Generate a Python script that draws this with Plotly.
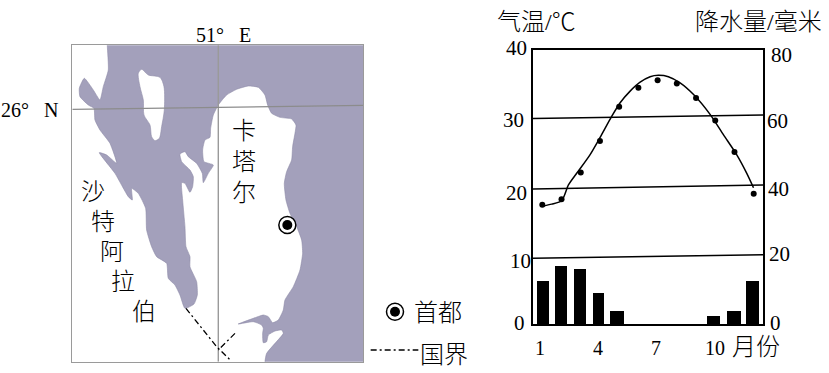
import plotly.graph_objects as go

W, H = 829, 373

# ---- climate data ----
months = list(range(1, 13))
temperature = [17.4, 18.2, 22.1, 26.7, 31.7, 34.5, 35.6, 35.1, 33.0, 29.7, 25.1, 19.0]
precipitation = [12.6, 17.0, 16.0, 9.0, 3.9, 0, 0, 0, 0, 2.4, 3.9, 12.6]
bar_offset = [0.03, -0.03, -0.03, -0.08, -0.10, 0, 0, 0, 0, -0.07, -0.03, -0.07]
bar_width = [0.60, 0.625, 0.61, 0.59, 0.73, 0.6, 0.6, 0.6, 0.6, 0.68, 0.71, 0.68]
curve_month = [0.98, 1.49, 2.01, 2.36, 2.79, 3.48, 4.0, 4.61, 5.05, 5.57, 6.09, 6.61, 7.04,
               7.56, 8.17, 8.87, 9.73, 10.43, 11.12, 11.64, 11.99]
curve_temp = [17.2, 17.5, 18.0, 20.3, 22.0, 24.7, 27.2, 30.3, 32.3, 34.0, 35.3, 36.1, 36.3,
              36.1, 35.2, 33.5, 30.6, 27.6, 24.7, 22.0, 19.9]
grid_left = [9.6, 19.7, 30.0]
grid_right = [10.1, 20.3, 30.5]
temp_ticks = ["0", "10", "20", "30", "40"]
rain_ticks = ["0", "20", "40", "60", "80"]
month_ticks = ["1", "4", "7", "10"]

# ---- map outlines (map units) ----
sea_x = [322, 322, 1150, 1150, 795, 795, 800, 825, 850, 845, 825, 805, 800, 790, 788, 790, 785, 760, 715, 760, 790, 805, 818, 835,
         850, 855, 880, 900, 908, 905, 890, 870, 858, 853, 860, 875, 878, 885, 888, 875, 840, 815, 803, 795, 775,
         745, 710, 680, 655, 640, 632, 630, 615, 608, 612, 640, 625, 610, 607, 590, 565, 555, 540, 545, 570, 580,
         578, 570, 555, 545, 548, 555, 558, 570, 570, 590, 592, 582, 555, 540, 525, 505, 500, 470, 455, 440, 437,
         415, 395, 397, 385, 345, 298, 320, 350, 330, 300, 285, 282, 265, 240, 238, 253, 280, 300, 310, 325, 322]
sea_y = [136, 80, 80, 1150, 1150, 1085, 1060, 1030, 1000, 990, 993, 1005, 1025, 1028, 1000, 985, 975, 965, 972, 955, 945, 950, 968, 960,
         930, 900, 860, 810, 760, 720, 680, 640, 600, 550, 515, 480, 440, 400, 375, 357, 352, 340, 315, 285, 262,
         258, 268, 285, 315, 345, 385, 412, 420, 450, 485, 495, 520, 548, 520, 490, 470, 455, 462, 485, 510, 530,
         560, 577, 550, 548, 600, 680, 740, 770, 800, 845, 885, 912, 925, 885, 855, 835, 790, 770, 740, 690, 625,
         580, 565, 600, 590, 520, 458, 465, 490, 430, 390, 360, 325, 315, 290, 265, 235, 270, 300, 260, 210, 136]
island_x = [415, 425, 445, 480, 492, 493, 485, 478, 465, 455, 450, 432, 430, 420, 415]
island_y = [220, 208, 225, 232, 260, 330, 380, 415, 422, 410, 375, 345, 300, 260, 220]
meridian_x = [655, 655]
meridian_y = [136, 1085]
parallel_x = [217, 1090]
parallel_y = [328, 316]
border_x = [558, 650, 693]
border_y = [925, 1040, 1082]
border2_x = [705, 655]
border2_y = [1000, 1050]
legend_line_x = [1112, 1255]
legend_line_y = [1050, 1050]
capital_x = [862, 1185]
capital_y = [675, 935]

SERIF = "Liberation Serif, Noto Sans CJK SC, serif"
MAP = dict(xaxis="x3", yaxis="y3", hoverinfo="skip", showlegend=False)
PAGE = dict(xaxis="x4", yaxis="y4", hoverinfo="skip", showlegend=False)
DASH = dict(color="black", width=1.3, dash="6px,3px,2px,3px")

fig = go.Figure()

# --- map, clipped to its frame ---
fig.add_trace(go.Scatter(x=sea_x, y=sea_y, mode="lines", fill="toself", fillcolor="#A3A0BB",
                         line=dict(color="#8F8CA8", width=0.6, shape="spline", smoothing=0.5), **MAP))
fig.add_trace(go.Scatter(x=island_x, y=island_y, mode="lines", fill="toself", fillcolor="white",
                         line=dict(color="#8F8CA8", width=0.6, shape="spline", smoothing=0.8), **MAP))
fig.add_trace(go.Scatter(x=meridian_x, y=meridian_y, mode="lines", line=dict(color="#9A9A9A", width=1.4), **MAP))
fig.add_trace(go.Scatter(x=parallel_x, y=parallel_y, mode="lines", line=dict(color="#8C8C8C", width=1.2), **MAP))
for bx, by in [(border_x, border_y), (border2_x, border2_y)]:
    fig.add_trace(go.Scatter(x=bx, y=by, mode="lines", line=DASH, **MAP))

# --- legend glyphs and capital on a full-page axis ---
fig.add_trace(go.Scatter(x=legend_line_x, y=legend_line_y, mode="lines", line=DASH, **PAGE))
fig.add_trace(go.Scatter(x=capital_x, y=capital_y, mode="markers",
                         marker=dict(size=17, color="white", line=dict(color="black", width=1.5)), **PAGE))
fig.add_trace(go.Scatter(x=capital_x, y=capital_y, mode="markers",
                         marker=dict(size=10, color="black"), **PAGE))

# --- climate chart ---
fig.add_trace(go.Bar(x=[m + o for m, o in zip(months, bar_offset)], y=precipitation, width=bar_width,
                     marker=dict(color="black", line=dict(width=0)), xaxis="x", yaxis="y2",
                     showlegend=False, name="降水量"))
for left, right in zip(grid_left, grid_right):
    fig.add_trace(go.Scatter(x=[0.516, 12.484], y=[left, right], mode="lines", xaxis="x", yaxis="y",
                             line=dict(color="black", width=1.5), showlegend=False, hoverinfo="skip"))
fig.add_trace(go.Scatter(x=curve_month, y=curve_temp, mode="lines", xaxis="x", yaxis="y",
                         line=dict(color="black", width=1.5, shape="spline", smoothing=0.7), showlegend=False))
fig.add_trace(go.Scatter(x=months, y=temperature, mode="markers", xaxis="x", yaxis="y",
                         marker=dict(color="black", size=6), showlegend=False, name="气温"))

def px(x, y, text, size=21, weight=None):
    font = dict(family=SERIF, size=size, color="black")
    if weight:
        font["weight"] = weight
    return dict(x=x / W, y=1 - y / H, xref="paper", yref="paper", text=text, showarrow=False,
                xanchor="center", yanchor="middle", font=font)

anns = []
for label, (x, y) in zip(temp_ticks, [(519, 323), (520, 261), (516, 193), (513, 120), (516, 48)]):
    anns.append(px(x, y, label))
for label, (x, y) in zip(rain_ticks, [(775, 323), (779, 254), (778, 189), (777, 121), (781, 55)]):
    anns.append(px(x, y, label))
for label, (x, y) in zip(month_ticks, [(540, 348), (598, 348), (656, 348), (715, 348)]):
    anns.append(px(x, y, label, size=20))
anns.append(px(756, 347, "月份", 24, 300))
anns.append(px(536, 22, "气温/℃", 24, 300))
anns.append(px(758, 22, "降水量/毫米", 24, 300))
anns.append(px(223, 35, "51°\u00a0\u00a0\u00a0E", 20))
anns.append(px(29, 110, "26°\u00a0\u00a0\u00a0N", 20))
anns.append(px(244, 162, "卡<br>塔<br>尔", 24, 300))
for ch, (x, y) in zip("沙特阿拉伯", [(93, 192), (103, 222), (112, 252), (123, 282), (144, 312)]):
    anns.append(px(x, y, ch, 24, 300))
anns.append(px(438, 313, "首都", 24, 300))
anns.append(px(444, 355, "国界", 24, 300))

frame = dict(showline=True, linecolor="black", linewidth=2, mirror=True, showgrid=False,
             zeroline=False, showticklabels=False, ticks="")
map_frame = dict(frame, linecolor="#9A9A9A", linewidth=1.2)

fig.update_layout(
    width=W, height=H, margin=dict(l=0, r=0, t=0, b=0),
    paper_bgcolor="white", plot_bgcolor="rgba(0,0,0,0)", showlegend=False,
    annotations=anns, bargap=0,
    xaxis=dict(domain=[533 / W, 763 / W], range=[0.516, 12.484], anchor="y", **frame),
    yaxis=dict(domain=[1 - 324 / H, 1 - 50 / H], range=[0, 40], anchor="x", **frame),
    yaxis2=dict(domain=[1 - 324 / H, 1 - 50 / H], range=[0, 80], overlaying="y", side="right", anchor="x",
                visible=False),
    xaxis3=dict(domain=[72.3 / W, 363.3 / W], range=[217, 1090], anchor="y3", **map_frame),
    yaxis3=dict(domain=[1 - 361.7 / H, 1 - 45.3 / H], range=[1085, 136], anchor="x3", **map_frame),
    xaxis4=dict(domain=[0, 1], range=[0, 2487], anchor="y4", visible=False),
    yaxis4=dict(domain=[0, 1], range=[1119, 0], anchor="x4", visible=False),
)

fig.write_html("out.html", post_script="document.body.style.margin='0';",
               config=dict(displayModeBar=False))
